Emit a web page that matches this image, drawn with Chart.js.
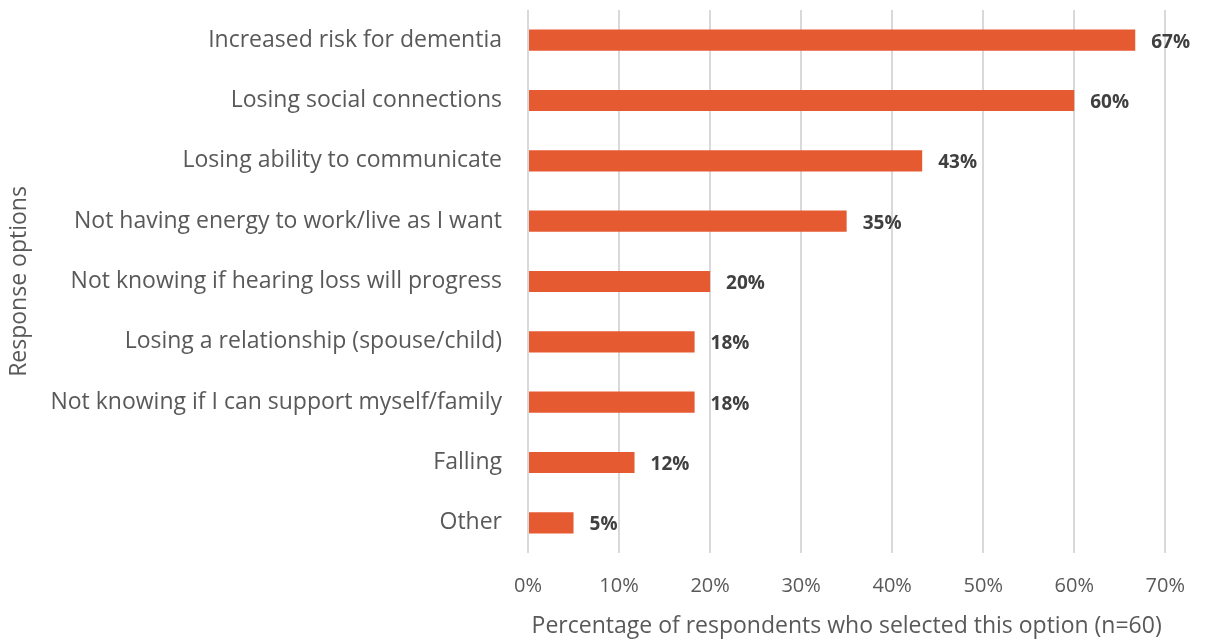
<!DOCTYPE html>
<html>
<head>
<meta charset="utf-8">
<script src="https://cdn.jsdelivr.net/npm/chart.js@4"></script>
<style>
  html, body { margin: 0; padding: 0; background: #fff; }
  #wrap { width: 1206px; height: 640px; position: relative; }
</style>
</head>
<body>
<div id="wrap"><canvas id="chart"></canvas></div>
<script>
// response options, top to bottom
const categories = [
  "Increased risk for dementia",
  "Losing social connections",
  "Losing ability to communicate",
  "Not having energy to work/live as I want",
  "Not knowing if hearing loss will progress",
  "Losing a relationship (spouse/child)",
  "Not knowing if I can support myself/family",
  "Falling",
  "Other"
];
// percent of respondents (n=60)
const percents = [66.7, 60.0, 43.3, 35.0, 20.0, 18.3, 18.3, 11.7, 5.0];
const valueLabels = ["67%", "60%", "43%", "35%", "20%", "18%", "18%", "12%", "5%"];

const FONT = "'Open Sans', 'Noto Sans', sans-serif";
const textGrey = "#595959";

// bold value labels at the bar ends
const barLabels = {
  id: "barLabels",
  afterDatasetsDraw(chart) {
    const ctx = chart.ctx;
    const meta = chart.getDatasetMeta(0);
    ctx.save();
    ctx.font = "bold 19px " + FONT;
    ctx.fillStyle = "#404040";
    ctx.textAlign = "left";
    ctx.textBaseline = "middle";
    meta.data.forEach((bar, i) => {
      ctx.fillText(valueLabels[i], bar.x + 16, bar.y + 2);
    });
    ctx.restore();
  }
};

new Chart(document.getElementById("chart"), {
  type: "bar",
  data: {
    labels: categories,
    datasets: [{
      data: percents,
      backgroundColor: "#E55A30",
      borderWidth: 0,
      barPercentage: 0.7,
      categoryPercentage: 0.5
    }]
  },
  options: {
    indexAxis: "y",
    responsive: true,
    maintainAspectRatio: false,
    animation: false,
    layout: { padding: { top: 10, right: 40, bottom: 0, left: 0 } },
    plugins: {
      legend: { display: false },
      tooltip: { enabled: false }
    },
    scales: {
      x: {
        min: 0,
        max: 70,
        ticks: {
          stepSize: 10,
          callback: v => v + "%",
          color: textGrey,
          font: { family: FONT, size: 20 },
          padding: 21
        },
        grid: { color: "#D9D9D9", lineWidth: 2, drawTicks: false },
        border: { display: false },
        title: {
          display: true,
          text: "Percentage of respondents who selected this option (n=60)",
          color: textGrey,
          font: { family: FONT, size: 23 },
          padding: { top: 4, bottom: 0 }
        },
        afterFit: s => { s.height = 87; }
      },
      y: {
        ticks: {
          color: textGrey,
          font: { family: FONT, size: 23 },
          padding: 26
        },
        grid: { display: false, drawTicks: false },
        border: { display: false },
        title: {
          display: true,
          text: "Response options",
          color: textGrey,
          font: { family: FONT, size: 23 },
          padding: { top: 6, bottom: 0 }
        },
        afterFit: s => {
          s.width = 528;
          s.paddingTop = 0;
          s.paddingBottom = 0;
        }
      }
    }
  },
  plugins: [barLabels]
});
</script>
</body>
</html>
